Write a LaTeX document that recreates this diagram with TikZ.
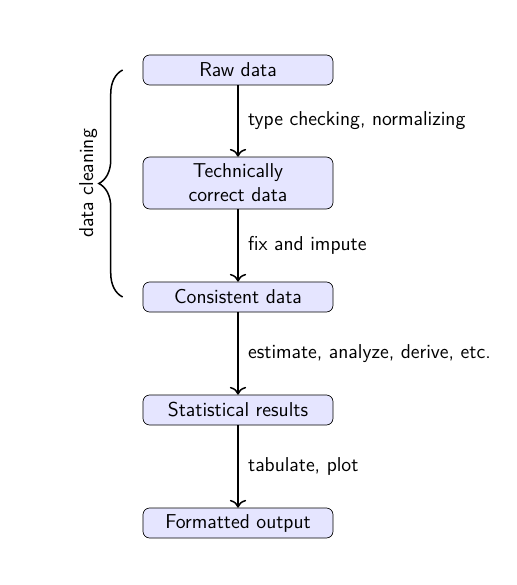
\documentclass[tikz,border=0pt]{standalone}
\usepackage{tikz}
\usetikzlibrary{arrows.meta, calc, positioning, decorations.pathreplacing}

\begin{document}
\begin{tikzpicture}[
  font=\sffamily\fontsize{12}{14.4}\selectfont,
  x=0.021cm, y=-0.021cm,
  stage/.style={draw, rounded corners=4pt, fill=blue!10, align=center,
                minimum width=3.99cm, minimum height=0.63cm, inner sep=2pt},
  flow/.style={-{To[scale=1.3]}, line width=0.9pt},
  lbl/.style={midway, right, xshift=0.08cm},
]

% ============ FRAME ============
\useasboundingbox (0,0) rectangle (517,585);

% ============ NODES ============

% Stages of the data pipeline
\node[stage] (raw)  at (238, 70)  {Raw data};
\node[stage, minimum height=1.09cm] (tech) at (238,183)
  {Technically\\correct data};
\node[stage] (cons) at (238,297) {Consistent data};
\node[stage] (stat) at (238,410) {Statistical results};
\node[stage] (fmt)  at (238,523) {Formatted output};

% ============ ARROWS ============

\draw[flow] (raw)  -- node[lbl] {type checking, normalizing} (tech);
\draw[flow] (tech) -- node[lbl] {fix and impute} (cons);
\draw[flow] (cons) -- node[lbl] {estimate, analyze, derive, etc.} (stat);
\draw[flow] (stat) -- node[lbl] {tabulate, plot} (fmt);

% ============ BRACE ============
\coordinate (bot) at ($(cons.west)+(-0.42cm,0)$);
\coordinate (top) at ($(raw.west)+(-0.42cm,0)$);
\draw[decorate, decoration={brace, amplitude=0.5cm}, line width=0.9pt]
  (bot) -- node[midway, rotate=90, anchor=south, yshift=0.4cm]
  {data cleaning} (top);

\end{tikzpicture}
\end{document}
